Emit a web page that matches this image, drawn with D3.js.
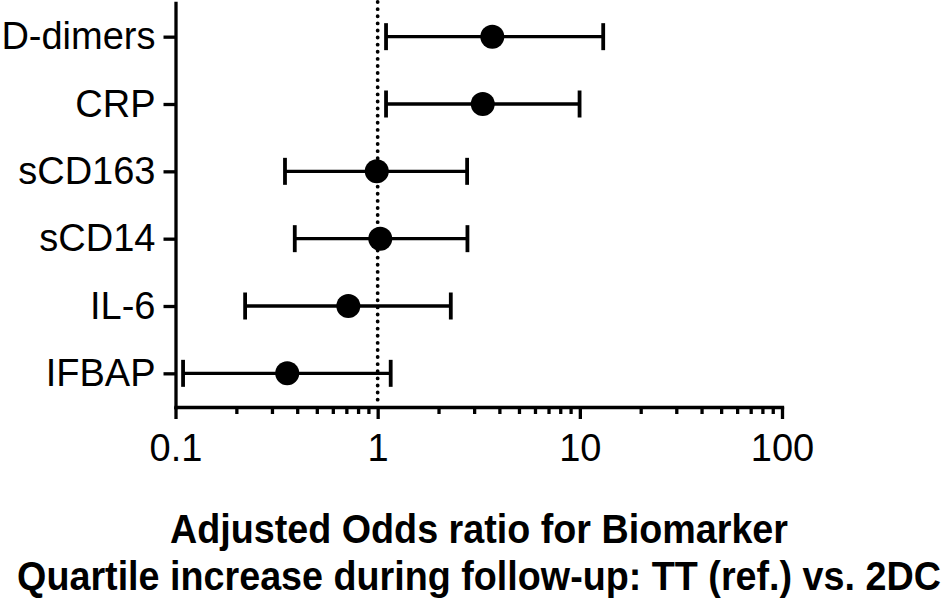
<!DOCTYPE html>
<html>
<head>
<meta charset="utf-8">
<script src="https://cdn.jsdelivr.net/npm/d3@7"></script>
<style>
  body { margin: 0; background: #fff; }
  svg { display: block; font-family: "Liberation Sans", Arial, sans-serif; }
  .axis path, .axis line { stroke: #000; stroke-width: 3.3; }
  .axis text { font-size: 38px; fill: #000; }
</style>
</head>
<body>
<svg id="chart" width="945" height="600"></svg>
<script>
const markers = ["D-dimers", "CRP", "sCD163", "sCD14", "IL-6", "IFBAP"];
const oddsRatio = [3.69, 3.31, 0.99, 1.03, 0.716, 0.357];
const ciLow = [1.10, 1.10, 0.348, 0.389, 0.221, 0.109];
const ciHigh = [13.05, 9.97, 2.77, 2.78, 2.30, 1.16];

const majorTicks = [0.1, 1, 10, 100];
const tickLabels = ["0.1", "1", "10", "100"];
const titleLines = [
  "Adjusted Odds ratio for Biomarker",
  "Quartile increase during follow-up: TT (ref.) vs. 2DC"
];

const svg = d3.select("#chart");

const x = d3.scaleLog().domain([0.1, 100]).range([175.5, 782]);
const y = d3.scalePoint().domain(markers).range([3, 407]).padding(0.5);

// minor ticks 2..9 in every decade
const minorTicks = [];
majorTicks.slice(0, -1).forEach(m => {
  for (let k = 2; k <= 9; k++) minorTicks.push(m * k);
});

svg.append("g")
  .attr("class", "axis")
  .attr("transform", "translate(0,407)")
  .call(d3.axisBottom(x).tickValues(minorTicks).tickSize(7).tickSizeOuter(0).tickFormat(""))
  .call(g => g.select(".domain").remove());

svg.append("g")
  .attr("class", "axis")
  .attr("transform", "translate(0,407)")
  .call(d3.axisBottom(x)
    .tickValues(majorTicks)
    .tickSize(12)
    .tickSizeOuter(0)
    .tickPadding(15)
    .tickFormat((d, i) => tickLabels[i]))
  .call(g => g.select(".domain").attr("stroke-linecap", "square"));

svg.append("g")
  .attr("class", "axis")
  .attr("transform", "translate(175.5,0)")
  .call(d3.axisLeft(y).tickSize(12).tickSizeOuter(0).tickPadding(8))
  .call(g => g.select(".domain").attr("stroke-linecap", "square"));

// reference line at OR = 1
svg.append("line")
  .attr("x1", x(1)).attr("x2", x(1))
  .attr("y1", 2).attr("y2", 405)
  .attr("stroke", "#000")
  .attr("stroke-width", 3.8)
  .attr("stroke-linecap", "round")
  .attr("stroke-dasharray", "0.1,7");

const rows = svg.append("g")
  .selectAll("g")
  .data(markers)
  .join("g")
  .attr("transform", d => `translate(0,${y(d)})`);

rows.append("line")
  .attr("x1", (d, i) => x(ciLow[i]))
  .attr("x2", (d, i) => x(ciHigh[i]))
  .attr("stroke", "#000")
  .attr("stroke-width", 3.3);

rows.append("line")
  .attr("x1", (d, i) => x(ciLow[i])).attr("x2", (d, i) => x(ciLow[i]))
  .attr("y1", -13.5).attr("y2", 13.5)
  .attr("stroke", "#000")
  .attr("stroke-width", 3.8);

rows.append("line")
  .attr("x1", (d, i) => x(ciHigh[i])).attr("x2", (d, i) => x(ciHigh[i]))
  .attr("y1", -13.5).attr("y2", 13.5)
  .attr("stroke", "#000")
  .attr("stroke-width", 3.8);

rows.append("circle")
  .attr("cx", (d, i) => x(oddsRatio[i]))
  .attr("r", 12)
  .attr("fill", "#000");

svg.append("g")
  .attr("transform", "translate(479,0) scale(0.92,1)")
  .selectAll("text")
  .data(titleLines)
  .join("text")
  .attr("x", 0)
  .attr("y", (d, i) => 543 + i * 47)
  .attr("text-anchor", "middle")
  .attr("font-size", 41)
  .attr("font-weight", "bold")
  .text(d => d);
</script>
</body>
</html>
